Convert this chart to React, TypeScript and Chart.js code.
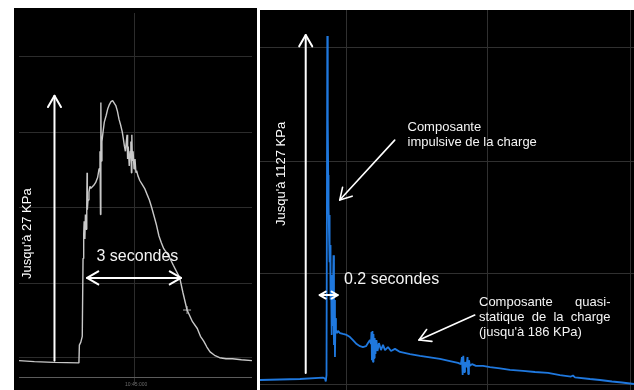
import React, { useEffect, useRef } from "react";
import { Chart, registerables } from "chart.js";

Chart.register(...registerables);

// ---------- Left panel: pressure trace (time in s, pressure in kPa) ----------
const leftTime = [0, 0.49, 1.10, 1.913, 1.928, 1.974, 2.020, 2.045, 2.066, 2.081,
  2.103, 2.121, 2.143, 2.164, 2.173, 2.182, 2.204, 2.234, 2.265, 2.296,
  2.326, 2.388, 2.449, 2.510, 2.556, 2.586, 2.602, 2.614, 2.626, 2.648,
  2.684, 2.724, 2.785, 2.837, 2.886, 2.938, 2.990, 3.030, 3.091, 3.144,
  3.193, 3.245, 3.297, 3.336, 3.367, 3.398, 3.428, 3.450, 3.468, 3.489,
  3.520, 3.551, 3.572, 3.590, 3.603, 3.621, 3.643, 3.673, 3.704, 3.734,
  3.756, 3.796, 3.857, 3.933, 4.010, 4.086, 4.163, 4.239, 4.316, 4.392,
  4.469, 4.545, 4.622, 4.775, 4.928, 5.133, 5.234, 5.366, 5.540, 5.693,
  5.794, 5.898, 5.999, 6.100, 6.244, 6.406, 6.611, 6.817, 7.101, 7.438];
const leftKPa = [0.2, 0.1, 0.02, -0.03, 1.8, 2.1, 2.7, 10.7, 13.2, 14.5,
  12.7, 15.2, 13.7, 16.2, 19.5, 15.7, 16.7, 17.5, 18.1, 17.9,
  18.0, 18.2, 18.5, 19.0, 19.9, 21.7, 15.2, 26.7, 20.7, 22.7,
  23.7, 24.7, 25.4, 26.1, 26.5, 26.8, 26.9, 26.7, 26.4, 25.8,
  25.0, 24.4, 23.7, 22.9, 22.2, 21.7, 22.7, 23.4, 20.9, 22.2,
  20.2, 21.7, 22.7, 19.5, 23.4, 20.7, 21.7, 19.9, 20.9, 19.5,
  19.7, 19.2, 18.7, 18.3, 17.9, 17.3, 16.7, 15.9, 15.0, 14.1,
  13.0, 12.3, 11.7, 11.0, 10.0, 8.7, 7.2, 5.4, 4.2, 3.5,
  2.7, 2.2, 1.6, 1.1, 0.75, 0.5, 0.4, 0.4, 0.3, 0.2];
const leftCursorTime = [5.366];
const leftCursorKPa = [5.4];
const leftTimeRange = [0, 7.44];
const leftKPaRange = [-2.3, 35.9];
const leftGridTime = [3.70];
const leftGridKPa = [31.4, 23.6, 15.9, 8.1, 0.5];
const leftAxisKPa = -1.5;
const leftTimeLabel = "10:45:000";
const leftPeakLabel = "Jusqu'à 27 KPa";
const leftSpanLabel = "3 secondes";
// arrows: [t1, p1, t2, p2]
const leftArrowPeak = [1.133, 0.2, 1.133, 27.4];
const leftArrowSpan = [2.173, 8.7, 5.173, 8.7];

// ---------- Right panel: pressure trace (time in s, pressure in kPa) ----------
const rightTime = [0, 0.222, 0.444, 0.700, 0.722, 0.731, 0.739, 0.748, 0.753, 0.758,
  0.762, 0.767, 0.771, 0.776, 0.780, 0.784, 0.789, 0.794, 0.800, 0.806,
  0.811, 0.817, 0.822, 0.828, 0.833, 0.839, 0.844, 0.856, 0.867, 0.889,
  0.922, 0.963, 1.000, 1.033, 1.074, 1.111, 1.144, 1.178, 1.200, 1.222,
  1.233, 1.239, 1.244, 1.250, 1.256, 1.261, 1.267, 1.274, 1.283, 1.294,
  1.306, 1.322, 1.344, 1.367, 1.389, 1.422, 1.456, 1.500, 1.556, 1.667,
  1.778, 1.889, 2.000, 2.111, 2.200, 2.233, 2.244, 2.252, 2.259, 2.267,
  2.278, 2.294, 2.306, 2.314, 2.322, 2.333, 2.356, 2.400, 2.478, 2.556,
  2.667, 2.778, 2.922, 3.056, 3.200, 3.333, 3.456, 3.478, 3.500, 3.667,
  3.778, 3.911, 4.022, 4.156];
const rightKPa = [-3.3, -1.6, 0, 4.3, 1.6, -8.2, 13.1, 1127, 851, 670,
  572, 480, 539, 384, 440, 260, 342, 145, 276, 177,
  292, 407, 112, 260, 72, 200, 161, 151, 158, 151,
  148, 145, 138, 128, 115, 108, 105, 108, 118, 128,
  115, 154, 62, 158, 56, 148, 69, 135, 82, 128,
  92, 118, 95, 112, 95, 105, 92, 99, 89, 82,
  76, 71, 66, 59, 53, 49, 72, 13, 76, 23,
  56, 39, 72, 16, 62, 43, 49, 43, 43, 39,
  35, 30, 27, 23, 20, 13, 8, 11.5, 5.6, 0,
  -3.3, -8.2, -11.5, -16.4];
const rightTimeRange = [0, 4.156];
const rightKPaRange = [-36.1, 1212.5];
const rightGridTime = [0.956, 2.533, 4.122];
const rightGridKPa = [1087.7, 716.3, 348.3, -17];
const rightPeakLabel = "Jusqu'à 1127 KPa";
const rightImpulseLabel = ["Composante", "impulsive de la charge"];
const rightSpanLabel = "0.2 secondes";
const rightQuasiLabel = "Composante quasi-statique de la charge (jusqu'à 186 KPa)";
const rightArrowPeak = [0.508, 20, 0.508, 1130];
const rightArrowImpulse = [1.497, 785, 0.886, 588];
const rightArrowSpan = [0.663, 276, 0.863, 276];
const rightArrowQuasi = [2.386, 210, 1.767, 128];

type ArrowSpec = { pts: number[]; both: boolean; width: number; head: number };

function makeArrowPlugin(arrows: ArrowSpec[]) {
  return {
    id: "arrows",
    afterDatasetsDraw(chart: any) {
      const { ctx, scales } = chart;
      const xs = scales.x;
      const ys = scales.y;
      ctx.save();
      ctx.strokeStyle = "#ffffff";
      ctx.lineCap = "round";
      ctx.lineJoin = "round";
      const head = (tx: number, ty: number, fx: number, fy: number, len: number) => {
        const ang = Math.atan2(ty - fy, tx - fx);
        const spread = Math.PI / 6;
        ctx.beginPath();
        ctx.moveTo(tx - len * Math.cos(ang - spread), ty - len * Math.sin(ang - spread));
        ctx.lineTo(tx, ty);
        ctx.lineTo(tx - len * Math.cos(ang + spread), ty - len * Math.sin(ang + spread));
        ctx.stroke();
      };
      for (const a of arrows) {
        const x1 = xs.getPixelForValue(a.pts[0]);
        const y1 = ys.getPixelForValue(a.pts[1]);
        const x2 = xs.getPixelForValue(a.pts[2]);
        const y2 = ys.getPixelForValue(a.pts[3]);
        ctx.lineWidth = a.width;
        ctx.beginPath();
        ctx.moveTo(x1, y1);
        ctx.lineTo(x2, y2);
        ctx.stroke();
        head(x2, y2, x1, y1, a.head);
        if (a.both) head(x1, y1, x2, y2, a.head);
      }
      ctx.restore();
    },
  };
}

function axisOpts(range: number[], grid: number[], colorFor: (v: number) => string) {
  return {
    type: "linear" as const,
    min: range[0],
    max: range[1],
    ticks: { display: false },
    border: { display: false },
    grid: {
      drawTicks: false,
      lineWidth: 1,
      color: (c: any) => colorFor(c.tick ? c.tick.value : 0),
    },
    afterBuildTicks: (axis: any) => {
      axis.ticks = grid.map((v) => ({ value: v }));
    },
  };
}

function baseOptions(xs: any, ys: any) {
  return {
    animation: false as const,
    responsive: false,
    events: [] as any[],
    layout: { padding: 0 },
    plugins: { legend: { display: false }, tooltip: { enabled: false } },
    scales: { x: xs, y: ys },
  };
}

function PanelCanvas({ left, top, width, height, build }: any) {
  const ref = useRef<HTMLCanvasElement>(null);
  useEffect(() => {
    const chart = new Chart(ref.current as HTMLCanvasElement, build());
    return () => chart.destroy();
  }, []);
  return (
    <canvas
      ref={ref}
      width={width}
      height={height}
      style={{ position: "absolute", left, top, width, height, background: "#000" }}
    />
  );
}

const FONT = 'Arial, "Liberation Sans", sans-serif';

function VerticalLabel({ left, top, text }: { left: number; top: number; text: string }) {
  return (
    <div
      style={{
        position: "absolute",
        left,
        top,
        width: 14,
        height: 200,
        display: "flex",
        justifyContent: "center",
        writingMode: "vertical-rl",
        transform: "rotate(180deg)",
        color: "#ffffff",
        fontFamily: FONT,
        fontSize: 13,
        lineHeight: "14px",
        whiteSpace: "nowrap",
      }}
    >
      <span>{text}</span>
    </div>
  );
}

export default function App() {
  const buildLeft = () => ({
    type: "line",
    data: {
      datasets: [
        {
          data: leftTime.map((t, i) => ({ x: t, y: leftKPa[i] })),
          borderColor: "#c8c8c8",
          borderWidth: 1.4,
          pointRadius: 0,
          tension: 0,
          borderJoinStyle: "bevel",
        },
        {
          data: leftCursorTime.map((t, i) => ({ x: t, y: leftCursorKPa[i] })),
          showLine: false,
          pointStyle: "cross",
          pointRadius: 4,
          borderColor: "#b0b0b0",
          borderWidth: 1,
        },
      ],
    },
    options: baseOptions(
      axisOpts(leftTimeRange, leftGridTime, () => "#2c2c2c"),
      axisOpts(leftKPaRange, [...leftGridKPa, leftAxisKPa], (v) =>
        v === leftAxisKPa ? "#5c5c5c" : "#2c2c2c"
      )
    ),
    plugins: [
      makeArrowPlugin([
        { pts: leftArrowPeak, both: false, width: 2, head: 13 },
        { pts: leftArrowSpan, both: true, width: 2, head: 13 },
      ]),
    ],
  });

  const buildRight = () => ({
    type: "line",
    data: {
      datasets: [
        {
          data: rightTime.map((t, i) => ({ x: t, y: rightKPa[i] })),
          borderColor: "#1f78de",
          borderWidth: 1.8,
          pointRadius: 0,
          tension: 0,
          borderJoinStyle: "bevel",
        },
      ],
    },
    options: baseOptions(
      axisOpts(rightTimeRange, rightGridTime, () => "#303030"),
      axisOpts(rightKPaRange, rightGridKPa, () => "#303030")
    ),
    plugins: [
      makeArrowPlugin([
        { pts: rightArrowPeak, both: false, width: 2, head: 13 },
        { pts: rightArrowImpulse, both: false, width: 1.6, head: 13 },
        { pts: rightArrowSpan, both: true, width: 2, head: 7 },
        { pts: rightArrowQuasi, both: false, width: 1.6, head: 13 },
      ]),
    ],
  });

  const txt: React.CSSProperties = {
    position: "absolute",
    color: "#f4f4f4",
    fontFamily: FONT,
    whiteSpace: "nowrap",
    margin: 0,
  };

  return (
    <div
      style={{
        position: "fixed",
        left: 0,
        top: 0,
        width: 634,
        height: 390,
        background: "#ffffff",
        overflow: "hidden",
      }}
    >
      <PanelCanvas left={14} top={8} width={243} height={382} build={buildLeft} />
      <PanelCanvas left={260} top={10} width={374} height={380} build={buildRight} />

      {/* Left panel texts */}
      <VerticalLabel left={20} top={134} text={leftPeakLabel} />
      <div style={{ ...txt, left: 96.5, top: 248, fontSize: 16, lineHeight: "16px" }}>
        {leftSpanLabel}
      </div>
      <div
        style={{
          ...txt,
          left: 125,
          top: 382,
          fontSize: 5,
          lineHeight: "5px",
          color: "#6a6a6a",
        }}
      >
        {leftTimeLabel}
      </div>

      {/* Right panel texts */}
      <VerticalLabel left={274} top={74} text={rightPeakLabel} />
      <div style={{ ...txt, left: 407.5, top: 118.7, fontSize: 13, lineHeight: "15px" }}>
        {rightImpulseLabel[0]}
        <br />
        {rightImpulseLabel[1]}
      </div>
      <div style={{ ...txt, left: 344, top: 270.5, fontSize: 16, lineHeight: "16px" }}>
        {rightSpanLabel}
      </div>
      <div
        style={{
          ...txt,
          left: 479,
          top: 293.7,
          width: 131.5,
          whiteSpace: "normal",
          textAlign: "justify",
          fontSize: 13,
          lineHeight: "15.2px",
        }}
      >
        {rightQuasiLabel}
      </div>
    </div>
  );
}
